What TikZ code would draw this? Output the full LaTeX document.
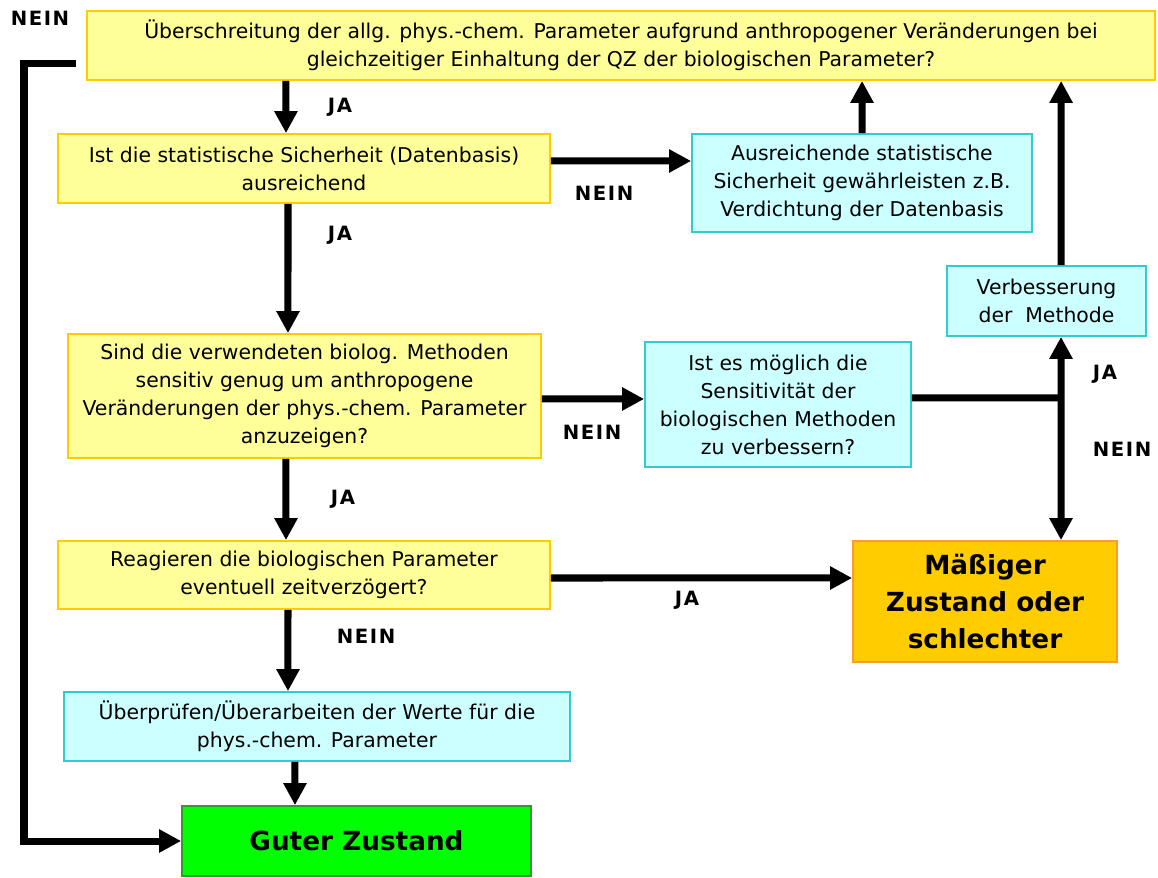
\documentclass[tikz,border=0pt]{standalone}
\usepackage{fontspec}
\setmainfont{DejaVu Sans}
\newfontfamily\answerfont[LetterSpace=8]{DejaVu Sans}
\usetikzlibrary{arrows.meta}
\definecolor{qfill}{HTML}{FFFF99}
\definecolor{qdraw}{HTML}{FFCC00}
\definecolor{afill}{HTML}{CCFFFF}
\definecolor{adraw}{HTML}{33CCCC}
\definecolor{bfill}{HTML}{FFCC00}
\definecolor{bdraw}{HTML}{FF9933}
\definecolor{gfill}{HTML}{00FF00}
\definecolor{gdraw}{HTML}{339933}
\tikzset{
frage/.style = {draw=qdraw, fill=qfill, line width=1.2pt, rectangle, inner sep=0pt, align=center, font=\fontsize{14.5}{19.9}\selectfont},
massnahme/.style = {frage, draw=adraw, fill=afill},
schlecht/.style = {frage, draw=bdraw, fill=bfill, font=\fontsize{18.7}{26.3}\selectfont\bfseries},
gut/.style = {schlecht, draw=gdraw, fill=gfill},
answer/.style = {inner sep=0pt, font=\fontsize{14}{16}\answerfont\bfseries},
tmp/.style = {coordinate},
flow/.style = {line width=0.175cm}
}

\begin{document}
\begin{tikzpicture}[x=0.025cm, y=-0.025cm, >={Triangle[length=0.55cm,width=0.55cm]}]
	\useasboundingbox (0,0) rectangle (1158,878);
	% Fragen
	\node[frage, minimum width=26.7cm, minimum height=1.725cm] (q0) at (621,45.5) {\"Uberschreitung der allg. phys.-chem. Parameter aufgrund anthropogener Ver\"anderungen bei\\gleichzeitiger Einhaltung der QZ der biologischen Parameter?};
	\node[frage, minimum width=12.3cm, minimum height=1.725cm] (q1) at (304,168.5) {Ist die statistische Sicherheit (Datenbasis)\\ausreichend};
	\node[frage, minimum width=11.825cm, minimum height=3.1cm] (q2) at (304.5,396) {Sind die verwendeten biolog. Methoden\\sensitiv genug um anthropogene\\Ver\"anderungen der phys.-chem. Parameter\\anzuzeigen?};
	\node[frage, minimum width=12.3cm, minimum height=1.7cm] (q3) at (304,575) {Reagieren die biologischen Parameter\\eventuell zeitverz\"ogert?};
	% Massnahmen
	\node[massnahme, minimum width=8.5cm, minimum height=2.45cm] (fix1) at (862,183) {Ausreichende statistische\\Sicherheit gew\"ahrleisten z.B.\\Verdichtung der Datenbasis};
	\node[massnahme, minimum width=6.65cm, minimum height=3.125cm] (q2b) at (778,404.5) {Ist es m\"oglich die\\Sensitivit\"at der\\biologischen Methoden\\zu verbessern?};
	\node[massnahme, minimum width=4.975cm, minimum height=1.75cm] (fix2) at (1046.5,301) {Verbesserung\\der~~Methode};
	\node[massnahme, minimum width=12.65cm, minimum height=1.725cm] (check) at (317,726.5) {\"Uberpr\"ufen/\"Uberarbeiten der Werte f\"ur die\\phys.-chem. Parameter};
	% Ergebnis
	\node[schlecht, minimum width=6.6cm, minimum height=3.025cm] (bad) at (985,601.5) {M\"a\ss iger\\Zustand oder\\schlechter};
	\node[gut, minimum width=8.725cm, minimum height=1.75cm] (good) at (356.5,841) {Guter Zustand};
	\node[tmp] (tmp1) at (1061,398) {};
	\node[tmp] (tmp2) at (76,64) {};
	\node[tmp] (tmp3) at (24,64) {};
	% Pfeile
	\draw[flow,->] ([xshift=-8.375cm]q0.south) -- ([xshift=-0.45cm]q1.north);
	\draw[flow,->] ([xshift=-0.4cm]q1.south) -- ([xshift=-0.4125cm]q2.north);
	\draw[flow,->] ([xshift=-0.4625cm]q2.south) -- ([xshift=-0.45cm]q3.north);
	\draw[flow,->] ([xshift=-0.4cm]q3.south) -- ([xshift=-0.725cm]check.north);
	\draw[flow,->] ([xshift=-0.55cm]check.south) -- ([xshift=-1.5375cm]good.north);
	\draw[flow,->] ([yshift=0.1875cm]q1.east) -- ([yshift=0.55cm]fix1.west);
	\draw[flow,->] (fix1.north) -- ([xshift=6.025cm]q0.south);
	\draw[flow,->] ([yshift=-0.075cm]q2.east) -- ([yshift=0.1375cm]q2b.west);
	\draw[flow] ([yshift=0.1625cm]q2b.east) -- (tmp1);
	\draw[flow,<->] ([xshift=0.3625cm]fix2.south) -- ([xshift=1.9cm]bad.north);
	\draw[flow,->] ([xshift=0.3625cm]fix2.north) -- ([xshift=11cm]q0.south);
	\draw[flow,->] ([yshift=-0.075cm]q3.east) -- ([yshift=0.5875cm]bad.west);
	\draw[flow,->] (tmp2) -- (tmp3) |- (good.west);
	% JA / NEIN
	\node[answer] (n0) at (40,18) {NEIN};
	\node[answer] (j1) at (340,107) {JA};
	\node[answer] (n1) at (604,193) {NEIN};
	\node[answer] (j2) at (340,235) {JA};
	\node[answer] (n2) at (592,432) {NEIN};
	\node[answer] (j3) at (1105,374) {JA};
	\node[answer] (n3) at (1122,449) {NEIN};
	\node[answer] (j4) at (343,499) {JA};
	\node[answer] (j5) at (687,600) {JA};
	\node[answer] (n4) at (366,636) {NEIN};
\end{tikzpicture}
\end{document}
